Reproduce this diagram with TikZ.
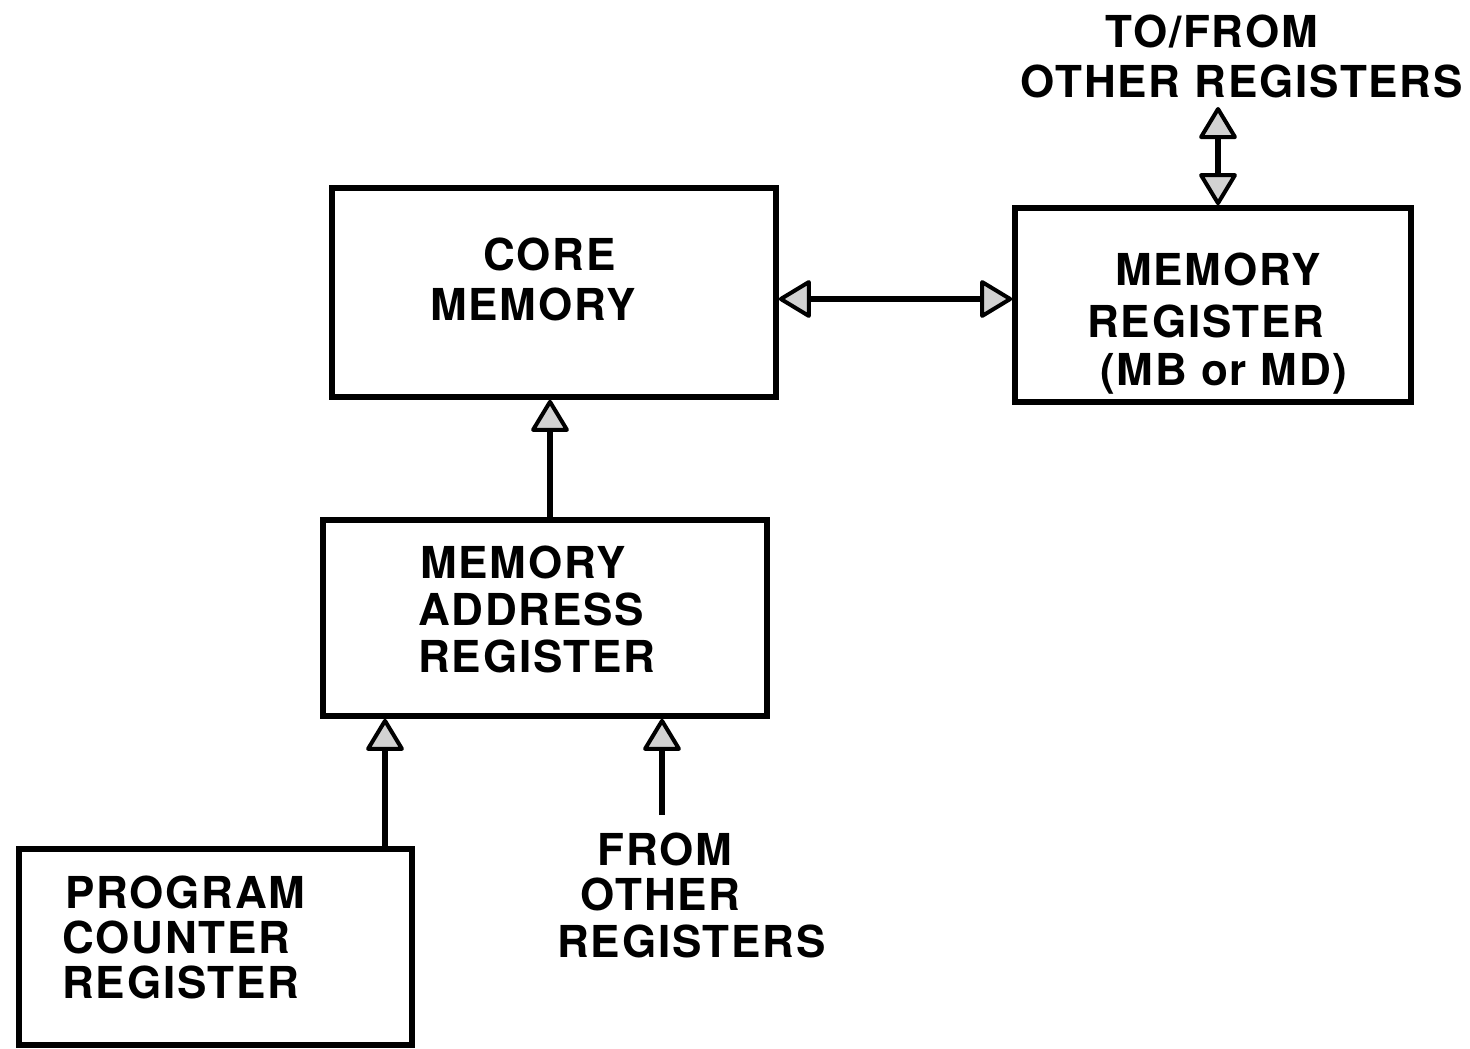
\documentclass[tikz,border=0pt]{standalone}
\usepackage{fontspec}
\setmainfont{TeX Gyre Heros}[LetterSpace=4]
\usetikzlibrary{arrows.meta}
\begin{document}
\begin{tikzpicture}[x=0.5pt,y=-0.5pt,
  box/.style={draw=black,line width=2.8pt,minimum width=#1},
  lbl/.style={anchor=base west,inner sep=0pt,font=\fontsize{22}{26}\selectfont\bfseries},
  conn/.style={line width=3pt,draw=black,line join=round},
  fat/.tip={Triangle[length=17pt,width=20pt,fill=gray!35,line width=2pt,round]}]
\useasboundingbox (0,0) rectangle (1470,1048);
\fill[white] (0,0) rectangle (1470,1048);
% boxes
\node[box=222pt,minimum height=104.5pt] (core) at (554,292.5) {};
\node[box=198pt,minimum height=97pt] (memreg) at (1213,305) {};
\node[box=222pt,minimum height=98pt] (mar) at (545,618) {};
\node[box=196.5pt,minimum height=98pt] (pc) at (215.5,947) {};
% labels
\node[lbl] (c1) at (483,270) {CORE};
\node[lbl] (c2) at (430,320) {MEMORY};
\node[lbl] (m1) at (1115,285) {MEMORY};
\node[lbl] (m2) at (1087,337) {REGISTER};
\node[lbl] (m3) at (1100,385) {(MB or MD)};
\node[lbl] (a1) at (420,578) {MEMORY};
\node[lbl] (a2) at (418,625) {ADDRESS};
\node[lbl] (a3) at (418,672) {REGISTER};
\node[lbl] (p1) at (65,908) {PROGRAM};
\node[lbl] (p2) at (62,953) {COUNTER};
\node[lbl] (p3) at (62,998) {REGISTER};
\node[lbl] (f1) at (597,865) {FROM};
\node[lbl] (f2) at (580,910) {OTHER};
\node[lbl] (f3) at (557,957) {REGISTERS};
\node[lbl] (t1) at (1105,48) {TO/FROM};
\node[lbl] (t2) at (1020,98) {OTHER REGISTERS};
% connectors
\coordinate (tofrom) at (1218,107);
\coordinate (fromo) at (662,815);
\draw[conn,fat-fat] (core.east |- 0,299) -- (memreg.west |- 0,299);
\draw[conn,fat-fat] (tofrom) -- (memreg.north -| tofrom);
\draw[conn,-fat] (mar.north -| 550,0) -- (core.south -| 550,0);
\draw[conn,-fat] (pc.north -| 385,0) -- (mar.south -| 385,0);
\draw[conn,-fat] (fromo) -- (mar.south -| fromo);
\end{tikzpicture}
\end{document}
